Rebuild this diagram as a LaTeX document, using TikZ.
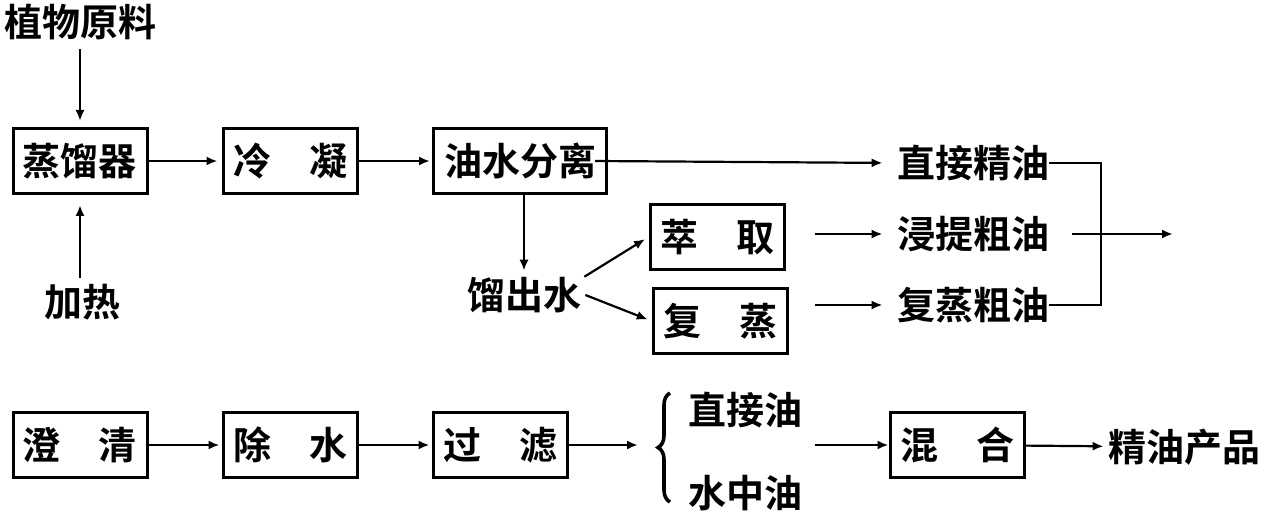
\documentclass[tikz,border=0pt]{standalone}
\usepackage{fontspec}
\newfontfamily\cjk{Noto Sans CJK SC}[UprightFont=* Bold]
\usepackage{tikz}
\usetikzlibrary{calc,positioning,arrows.meta,decorations.pathreplacing}
\tikzset{
	box/.style={draw, line width=1.5pt, minimum width=67pt, minimum height=32.5pt, inner sep=0pt, font=\cjk\fontsize{19}{21}\selectfont},
	txt/.style={inner sep=0pt, font=\cjk\fontsize{19}{21}\selectfont},
	arr/.style={-{Latex[length=5.5pt,width=4.5pt]}, line width=1.1pt},
}
\begin{document}
\begin{tikzpicture}[x=0.5pt, y=-0.5pt]
			\useasboundingbox (0,0) rectangle (1265,513);
			\node[txt] (zw) at (80,22) {植物原料};
			\node[box] (zl) at (80,161) {蒸馏器};
			\node[box] (ln) at (290,161) {冷\hspace{1em}凝};
			\node[box, minimum width=86.5pt] (fl) at (520,161) {油水分离};
			\node[txt] (jr) at (83,302) {加热};
			\node[txt] (lc) at (524,295) {馏出水};
			\node[box] (cq) at (717,237) {萃\hspace{1em}取};
			\node[box] (fz) at (720,321) {复\hspace{1em}蒸};
			\node[txt] (zj) at (973,163) {直接精油};
			\node[txt] (jt) at (973,234) {浸提粗油};
			\node[txt] (fc) at (973,305) {复蒸粗油};
			\coordinate (a2) at (815,234);
			\coordinate (a3) at (815,305);
			\coordinate (j2) at (1101,305);
			\coordinate (out) at (1173,234);
			\draw[arr, shorten <=4.5pt, shorten >=3pt] (zw) -- (zl);
			\draw[arr, shorten <=3pt, shorten >=5pt] (jr.north -| zl.south) -- (zl.south);
			\draw[arr, shorten >=2pt] (zl) -- (ln);
			\draw[arr, shorten >=1pt] (ln) -- (fl);
			\draw[arr, shorten >=7pt] ([xshift=-6.5pt]fl.east) -- (zj.west);
			\draw[arr, shorten >=3pt] (fl.south -| lc.north) -- (lc.north);
			\draw[arr, shorten >=2pt] ([xshift=1.5pt]lc.north east) -- (cq.west);
			\draw[arr, shorten >=2pt] ([xshift=2pt]lc.east) -- (fz.west);
			\draw[arr, shorten >=7pt] (a2) -- (jt.west);
			\draw[arr, shorten >=7pt] (a3) -- (fc.west);
			\draw[line width=1.1pt] (zj.east) -| (j2) -- (fc.east);
			\draw[arr] ([xshift=11.5pt]jt.east) -- (out);
			\node[box] (cqing) at (80,445) {澄\hspace{1em}清};
			\node[box] (cs) at (290,445) {除\hspace{1em}水};
			\node[box] (gl) at (500,445) {过\hspace{1em}滤};
			\coordinate (b0) at (638,445);
			\coordinate (bt) at (670,393);
			\coordinate (bb) at (670,502);
			\node[txt] (zjy) at (745,410) {直接油};
			\node[txt] (szy) at (745,493) {水中油};
			\coordinate (a4) at (815,445);
			\node[box] (hh) at (957,445) {混\hspace{1em}合};
			\node[txt] (cp) at (1184,447) {精油产品};
			\draw[arr, shorten >=1pt] (cqing) -- (cs);
			\draw[arr, shorten >=1pt] (cs) -- (gl);
			\draw[arr] (gl.east) -- (b0);
			\draw[line width=1.8pt, decorate, decoration={brace, amplitude=6pt}] (bb) -- (bt);
			\draw[arr] (a4) -- (hh.west);
			\draw[arr, shorten >=2pt] (hh) -- (cp);
		\end{tikzpicture}
\end{document}
